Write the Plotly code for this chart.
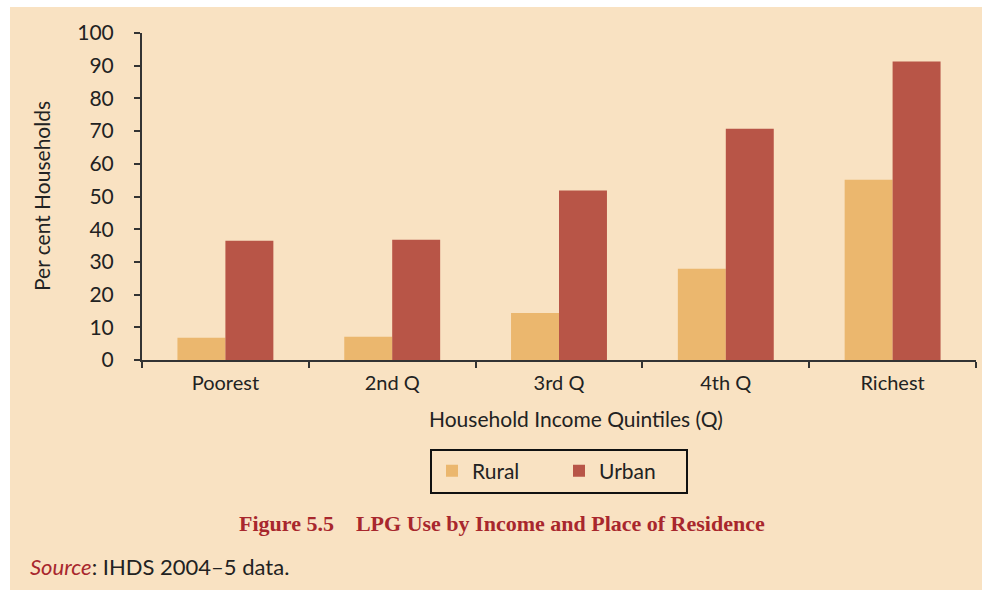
import plotly.graph_objects as go

categories = ["Poorest", "2nd Q", "3rd Q", "4th Q", "Richest"]
rural = [6.8, 7.1, 14.4, 27.9, 55.1]
urban = [36.5, 36.8, 51.8, 70.7, 91.3]
y_ticks = [0, 10, 20, 30, 40, 50, 60, 70, 80, 90, 100]

W, H = 982, 592
L, R, T, B = 142, 6, 33, 232
PW, PH = W - L - R, H - T - B

def px(x):
    return (x - L) / PW

def py(y):
    return (H - B - y) / PH

BG = "#F9E2C2"
RURAL_C = "#EBB76E"
URBAN_C = "#B85547"
AX = "#333333"
FONT = "Lato, Open Sans, sans-serif"

fig = go.Figure()
fig.add_trace(go.Bar(x=categories, y=rural, name="Rural", marker=dict(color=RURAL_C, line=dict(width=0))))
fig.add_trace(go.Bar(x=categories, y=urban, name="Urban", marker=dict(color=URBAN_C, line=dict(width=0))))

fig.update_layout(
    width=W, height=H,
    margin=dict(l=L, r=R, t=T, b=B, pad=0),
    paper_bgcolor="white",
    plot_bgcolor="rgba(0,0,0,0)",
    barmode="group",
    bargap=0.425,
    bargroupgap=0,
    font=dict(family=FONT, size=20, color="#222222"),
    showlegend=True,
    legend=dict(
        orientation="h",
        x=px(559), y=py(471), xanchor="center", yanchor="middle",
        bordercolor="#111111", borderwidth=2,
        bgcolor="rgba(0,0,0,0)",
        font=dict(family=FONT, size=21, color="#222222"),
        entrywidth=82, entrywidthmode="pixels",
        itemsizing="constant",
    ),
    shapes=[
        dict(type="rect", xref="paper", yref="paper", layer="below",
             x0=px(10), x1=px(W + 5), y0=py(H - 2), y1=py(7),
             fillcolor=BG, line=dict(width=0)),
    ],
    annotations=[
        dict(text="Per cent Households", xref="paper", yref="paper",
             x=px(41), y=py(196), textangle=-90, showarrow=False,
             xanchor="center", yanchor="middle",
             font=dict(family=FONT, size=21, color="#222222")),
        dict(text="Household Income Quintiles (Q)", xref="paper", yref="paper",
             x=px(576), y=py(418), showarrow=False,
             xanchor="center", yanchor="middle",
             font=dict(family=FONT, size=21, color="#222222")),
        dict(text="<b>Figure 5.5\u00a0\u00a0\u00a0\u00a0LPG Use by Income and Place of Residence</b>",
             xref="paper", yref="paper",
             x=px(502), y=py(523), showarrow=False,
             xanchor="center", yanchor="middle",
             font=dict(family="Liberation Serif, serif", size=22, color="#A8272D")),
        dict(text="<span style='color:#A8272D'><i>Source</i></span>: IHDS 2004\u20135 data.",
             xref="paper", yref="paper",
             x=px(28), y=py(566), showarrow=False,
             xanchor="left", yanchor="middle",
             font=dict(family=FONT, size=22, color="#222222")),
    ],
)

fig.update_xaxes(
    type="category",
    showline=True, linecolor=AX, linewidth=2,
    ticks="outside", tickson="boundaries", ticklen=6, tickwidth=2, tickcolor=AX,
    ticklabelstandoff=4,
    showgrid=False, zeroline=False,
    tickfont=dict(family=FONT, size=20, color="#222222"),
)
fig.update_yaxes(
    range=[0, 100], tickvals=y_ticks,
    showline=True, linecolor=AX, linewidth=2,
    ticks="outside", ticklen=6, tickwidth=2, tickcolor=AX,
    ticklabelstandoff=16,
    showgrid=False, zeroline=False,
    tickfont=dict(family=FONT, size=21, color="#222222"),
)

fig.write_html("out.html", config={"displayModeBar": False},
               post_script="document.body.style.margin='0';")
